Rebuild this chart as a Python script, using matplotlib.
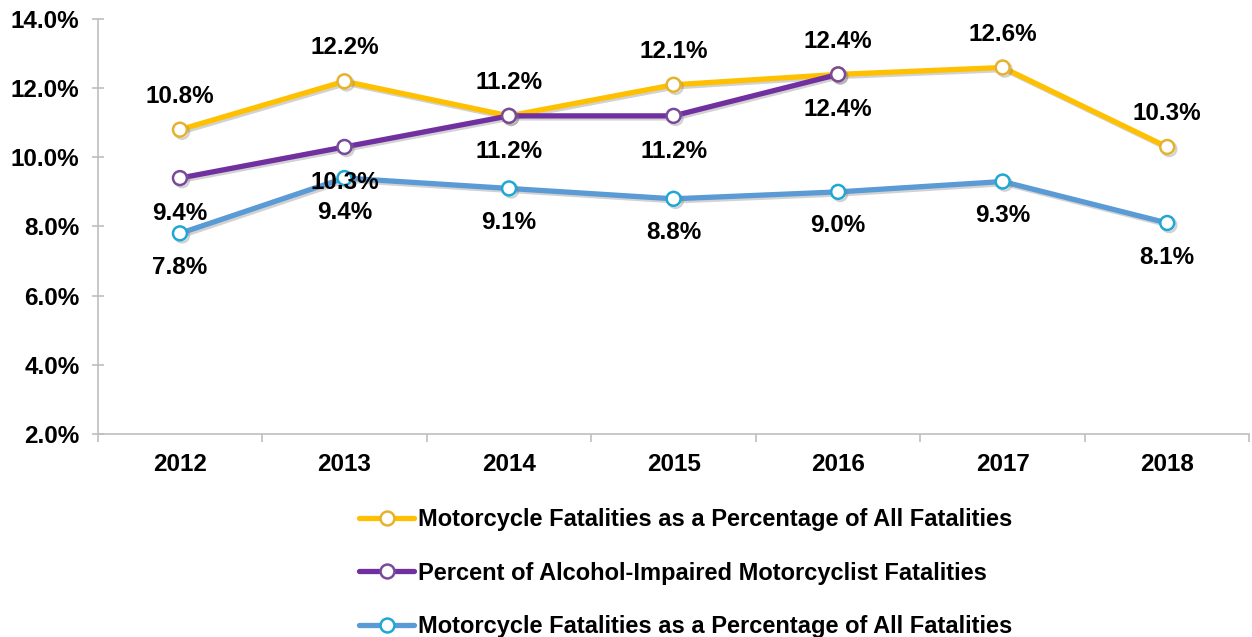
import matplotlib
matplotlib.use("Agg")
import matplotlib.pyplot as plt
import matplotlib.patheffects as pe
from matplotlib.ticker import FuncFormatter

years = ["2012", "2013", "2014", "2015", "2016", "2017", "2018"]
moto_pct_a = [10.8, 12.2, 11.2, 12.1, 12.4, 12.6, 10.3]
alcohol_pct = [9.4, 10.3, 11.2, 11.2, 12.4]
moto_pct_b = [7.8, 9.4, 9.1, 8.8, 9.0, 9.3, 8.1]
series_names = [
    "Motorcycle Fatalities as a Percentage of All Fatalities",
    "Percent of Alcohol-Impaired Motorcyclist Fatalities",
    "Motorcycle Fatalities as a Percentage of All Fatalities",
]

plt.rcParams['font.family'] = ['Liberation Sans', 'DejaVu Sans']
plt.rcParams['font.weight'] = 'bold'

fig = plt.figure(figsize=(12.52, 6.37), dpi=100)
ax = fig.add_axes([0.078, 0.319, 0.92, 0.651])

x = list(range(len(years)))
styles = [
    (moto_pct_a, "#FFC000", "#E6B22E"),
    (alcohol_pct, "#7030A0", "#7A4A9A"),
    (moto_pct_b, "#5B9BD5", "#1FA7D6"),
]
shadow = [pe.SimpleLineShadow(offset=(1.5, -1.5), shadow_color='gray', alpha=0.35), pe.Normal()]
for (vals, col, mec), name in zip(styles, series_names):
    ax.plot(x[:len(vals)], vals, color=col, lw=3.8, marker='o', ms=10,
            mfc='white', mec=mec, mew=1.8, label=name, path_effects=shadow,
            solid_capstyle='round')

fs = 17.5
for xi, v in zip(x, moto_pct_a):
    ax.annotate(f"{v:.1f}%", (xi, v), xytext=(0, 24), textcoords='offset points',
                ha='center', va='center', fontsize=fs, fontweight='bold')
for xi, v in zip(x, alcohol_pct):
    ax.annotate(f"{v:.1f}%", (xi, v), xytext=(0, -25.5), textcoords='offset points',
                ha='center', va='center', fontsize=fs, fontweight='bold')
for xi, v in zip(x, moto_pct_b):
    ax.annotate(f"{v:.1f}%", (xi, v), xytext=(0, -24.5), textcoords='offset points',
                ha='center', va='center', fontsize=fs, fontweight='bold')

ax.set_xlim(-0.5, len(years) - 0.5)
ax.set_ylim(2, 14)
ax.set_yticks([2, 4, 6, 8, 10, 12, 14])
ax.yaxis.set_major_formatter(FuncFormatter(lambda v, p: f"{v:.1f}%"))
ax.set_xticks(x)
ax.set_xticklabels(years)
ax.set_xticks([i - 0.5 for i in range(len(years) + 1)], minor=True)
ax.tick_params(axis='x', which='major', length=0, pad=14, labelsize=fs)
ax.tick_params(axis='x', which='minor', length=6, color='#BFBFBF', width=1.2)
ax.tick_params(axis='y', length=8, direction='inout', color='#BFBFBF', width=1.2,
               labelsize=fs, pad=9)
for lab in ax.get_xticklabels() + ax.get_yticklabels():
    lab.set_fontweight('bold')
for s in ['top', 'right']:
    ax.spines[s].set_visible(False)
for s in ['left', 'bottom']:
    ax.spines[s].set_color('#BFBFBF')
    ax.spines[s].set_linewidth(1.2)

leg = fig.legend(loc='upper center', bbox_to_anchor=(0.548, 0.221), frameon=False,
                 ncol=1, handlelength=2.3, labelspacing=1.3, borderpad=0.0,
                 handletextpad=0.2, prop={'weight': 'bold', 'size': 17})
for line in leg.get_lines():
    line.set_path_effects([])

fig.savefig("out.png", dpi=100)
